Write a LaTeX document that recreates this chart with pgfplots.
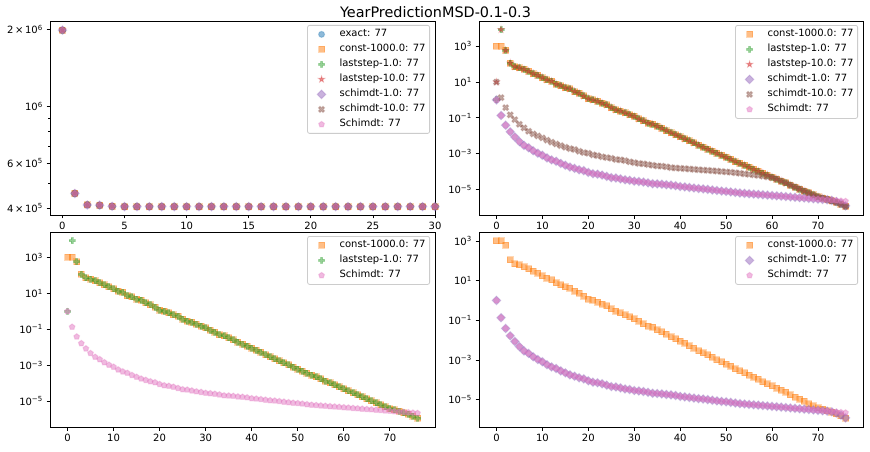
\documentclass[border=0pt]{standalone}
\usepackage{fontspec}
\setmainfont{DejaVu Sans}
\usepackage{pgfplots}
\usepackage{pgfplotstable}
\pgfplotsset{compat=1.18}
\definecolor{c0}{HTML}{1F77B4}
\definecolor{c1}{HTML}{FF7F0E}
\definecolor{c2}{HTML}{2CA02C}
\definecolor{c3}{HTML}{D62728}
\definecolor{c4}{HTML}{9467BD}
\definecolor{c5}{HTML}{8C564B}
\definecolor{c6}{HTML}{E377C2}
\newcommand\sups[1]{\textsuperscript{#1}}

\pgfdeclareplotmark{mplstar}{%
 \pgfpathmoveto{\pgfpointpolar{90}{\pgfplotmarksize}}%
 \pgfpathlineto{\pgfpointpolar{126}{0.382\pgfplotmarksize}}%
 \pgfpathlineto{\pgfpointpolar{162}{\pgfplotmarksize}}%
 \pgfpathlineto{\pgfpointpolar{198}{0.382\pgfplotmarksize}}%
 \pgfpathlineto{\pgfpointpolar{234}{\pgfplotmarksize}}%
 \pgfpathlineto{\pgfpointpolar{270}{0.382\pgfplotmarksize}}%
 \pgfpathlineto{\pgfpointpolar{306}{\pgfplotmarksize}}%
 \pgfpathlineto{\pgfpointpolar{342}{0.382\pgfplotmarksize}}%
 \pgfpathlineto{\pgfpointpolar{18}{\pgfplotmarksize}}%
 \pgfpathlineto{\pgfpointpolar{54}{0.382\pgfplotmarksize}}%
 \pgfpathclose\pgfusepathqfillstroke}
\pgfdeclareplotmark{mplplus}{%
 \pgfpathmoveto{\pgfpoint{-0.333\pgfplotmarksize}{-\pgfplotmarksize}}%
 \pgfpathlineto{\pgfpoint{0.333\pgfplotmarksize}{-\pgfplotmarksize}}%
 \pgfpathlineto{\pgfpoint{0.333\pgfplotmarksize}{-0.333\pgfplotmarksize}}%
 \pgfpathlineto{\pgfpoint{\pgfplotmarksize}{-0.333\pgfplotmarksize}}%
 \pgfpathlineto{\pgfpoint{\pgfplotmarksize}{0.333\pgfplotmarksize}}%
 \pgfpathlineto{\pgfpoint{0.333\pgfplotmarksize}{0.333\pgfplotmarksize}}%
 \pgfpathlineto{\pgfpoint{0.333\pgfplotmarksize}{\pgfplotmarksize}}%
 \pgfpathlineto{\pgfpoint{-0.333\pgfplotmarksize}{\pgfplotmarksize}}%
 \pgfpathlineto{\pgfpoint{-0.333\pgfplotmarksize}{0.333\pgfplotmarksize}}%
 \pgfpathlineto{\pgfpoint{-\pgfplotmarksize}{0.333\pgfplotmarksize}}%
 \pgfpathlineto{\pgfpoint{-\pgfplotmarksize}{-0.333\pgfplotmarksize}}%
 \pgfpathlineto{\pgfpoint{-0.333\pgfplotmarksize}{-0.333\pgfplotmarksize}}%
 \pgfpathclose\pgfusepathqfillstroke}
\pgfdeclareplotmark{mplx}{%
 \pgfpathmoveto{\pgfpoint{-0.5\pgfplotmarksize}{-\pgfplotmarksize}}%
 \pgfpathlineto{\pgfpoint{0pt}{-0.5\pgfplotmarksize}}%
 \pgfpathlineto{\pgfpoint{0.5\pgfplotmarksize}{-\pgfplotmarksize}}%
 \pgfpathlineto{\pgfpoint{\pgfplotmarksize}{-0.5\pgfplotmarksize}}%
 \pgfpathlineto{\pgfpoint{0.5\pgfplotmarksize}{0pt}}%
 \pgfpathlineto{\pgfpoint{\pgfplotmarksize}{0.5\pgfplotmarksize}}%
 \pgfpathlineto{\pgfpoint{0.5\pgfplotmarksize}{\pgfplotmarksize}}%
 \pgfpathlineto{\pgfpoint{0pt}{0.5\pgfplotmarksize}}%
 \pgfpathlineto{\pgfpoint{-0.5\pgfplotmarksize}{\pgfplotmarksize}}%
 \pgfpathlineto{\pgfpoint{-\pgfplotmarksize}{0.5\pgfplotmarksize}}%
 \pgfpathlineto{\pgfpoint{-0.5\pgfplotmarksize}{0pt}}%
 \pgfpathlineto{\pgfpoint{-\pgfplotmarksize}{-0.5\pgfplotmarksize}}%
 \pgfpathclose\pgfusepathqfillstroke}
\pgfdeclareplotmark{mpldiamond}{%
 \pgfpathmoveto{\pgfpoint{0pt}{1.414\pgfplotmarksize}}%
 \pgfpathlineto{\pgfpoint{1.414\pgfplotmarksize}{0pt}}%
 \pgfpathlineto{\pgfpoint{0pt}{-1.414\pgfplotmarksize}}%
 \pgfpathlineto{\pgfpoint{-1.414\pgfplotmarksize}{0pt}}%
 \pgfpathclose\pgfusepathqfillstroke}

\tikzset{
 mplmk/.style={only marks, mark size=3pt, fill opacity=0.5, draw opacity=0.3, line width=1pt},
 sE/.style={mplmk, mark=*, color=c0},
 sC/.style={mplmk, mark=square*, color=c1},
 sL1/.style={mplmk, mark=mplplus, color=c2},
 sL10/.style={mplmk, mark=mplstar, color=c3},
 sS1/.style={mplmk, mark=mpldiamond, color=c4},
 sS10/.style={mplmk, mark=mplx, color=c5},
 sSM/.style={mplmk, mark=pentagon*, color=c6},
}

\pgfplotsset{
 every axis/.append style={
  scale only axis, ymode=log,
  axis line style={line width=0.8pt},
  tick style={black, line width=0.8pt},
  major tick length=3.5pt, minor tick length=2pt,
  tick align=outside, xtick pos=bottom, ytick pos=left,
  ticklabel style={font=\fontsize{10}{12}\selectfont},
  xticklabel style={inner sep=0pt, anchor=north, yshift=-3.5pt},
  yticklabel style={inner sep=0pt, anchor=east, xshift=-3.5pt},
  /pgf/number format/assume math mode=true,
  legend style={at={(1,1)}, anchor=north east, xshift=-5pt, yshift=-4pt,
    draw=black!20, line width=0.8pt, rounded corners=2pt, fill=white,
    inner xsep=4pt, inner ysep=4pt, row sep=5pt, column sep=0pt,
    font=\fontsize{10}{12}\selectfont,
    nodes={inner sep=0pt, text height=7.5pt, text depth=2.5pt}},
  legend cell align=left,
 },
 legend image code/.code={\path[draw=none,fill=none] (0pt,-3pt) rectangle (28pt,3pt);
     \draw[sharp corners,#1] plot coordinates {(10pt,0pt)};},
}

\pgfplotstableread{
x y
0 1.99e6
1 4.57e5
2 4.12e5
3 4.11e5
4 4.07e5
5 4.06e5
6 4.06e5
7 4.06e5
8 4.06e5
9 4.06e5
10 4.06e5
11 4.06e5
12 4.06e5
13 4.06e5
14 4.06e5
15 4.06e5
16 4.06e5
17 4.06e5
18 4.06e5
19 4.06e5
20 4.06e5
21 4.06e5
22 4.06e5
23 4.06e5
24 4.06e5
25 4.06e5
26 4.06e5
27 4.06e5
28 4.06e5
29 4.06e5
30 4.06e5
}\objtab

\pgfplotstableread{
x const last1 last10 sch1 sch10 schm
0 1000 1.00 10.0 1.00 10.0 1.00
1 1000 8.51e3 8.51e3 0.135 1.35 0.135
2 589 589 589 3.89e-2 0.372 3.89e-2
3 115 115 115 1.66e-2 0.145 1.66e-2
4 72.4 72.4 72.4 8.51e-3 7.94e-2 8.51e-3
5 61.7 61.7 61.7 4.68e-3 4.37e-2 4.68e-3
6 51.3 51.3 51.3 2.88e-3 2.75e-2 2.88e-3
7 39.8 39.8 39.8 2.14e-3 1.78e-2 2.14e-3
8 29.5 29.5 29.5 1.45e-3 1.26e-2 1.45e-3
9 23.4 23.4 23.4 1.05e-3 9.77e-3 1.05e-3
10 17.8 17.8 17.8 8.13e-4 7.59e-3 8.13e-4
11 13.5 13.5 13.5 5.75e-4 5.62e-3 5.75e-4
12 11.2 11.2 11.2 4.47e-4 4.37e-3 4.47e-4
13 7.59 7.59 7.59 3.72e-4 3.47e-3 3.72e-4
14 6.31 6.31 6.31 2.82e-4 2.82e-3 2.82e-4
15 4.79 4.79 4.79 2.24e-4 2.29e-3 2.24e-4
16 4.17 4.17 4.17 1.78e-4 1.91e-3 1.78e-4
17 2.95 2.95 2.95 1.51e-4 1.70e-3 1.51e-4
18 2.34 2.34 2.34 1.26e-4 1.35e-3 1.26e-4
19 1.66 1.66 1.66 1.12e-4 1.15e-3 1.12e-4
20 1.17 1.17 1.17 8.91e-5 1.05e-3 8.91e-5
21 1.00 1.00 1.00 7.59e-5 8.51e-4 7.59e-5
22 0.832 0.832 0.832 7.08e-5 7.76e-4 7.08e-5
23 0.661 0.661 0.661 6.31e-5 6.61e-4 6.31e-5
24 0.525 0.525 0.525 5.37e-5 6.03e-4 5.37e-5
25 0.372 0.372 0.372 4.57e-5 5.50e-4 4.57e-5
26 0.282 0.282 0.282 4.37e-5 4.68e-4 4.37e-5
27 0.240 0.240 0.240 3.89e-5 4.47e-4 3.89e-5
28 0.191 0.191 0.191 3.47e-5 4.07e-4 3.47e-5
29 0.151 0.151 0.151 3.24e-5 3.47e-4 3.24e-5
30 0.120 0.120 0.120 2.88e-5 3.16e-4 2.88e-5
31 8.71e-2 8.71e-2 8.71e-2 2.75e-5 2.82e-4 2.75e-5
32 6.76e-2 6.76e-2 6.76e-2 2.57e-5 2.69e-4 2.57e-5
33 5.13e-2 5.13e-2 5.13e-2 2.34e-5 2.45e-4 2.34e-5
34 4.37e-2 4.37e-2 4.37e-2 2.09e-5 2.24e-4 2.09e-5
35 3.39e-2 3.39e-2 3.39e-2 2.04e-5 2.04e-4 2.04e-5
36 2.63e-2 2.63e-2 2.63e-2 1.95e-5 2.00e-4 1.95e-5
37 1.95e-2 1.95e-2 1.95e-2 1.82e-5 1.82e-4 1.82e-5
38 1.48e-2 1.48e-2 1.48e-2 1.74e-5 1.66e-4 1.74e-5
39 1.15e-2 1.15e-2 1.15e-2 1.62e-5 1.58e-4 1.62e-5
40 8.91e-3 8.91e-3 8.91e-3 1.45e-5 1.51e-4 1.45e-5
41 6.76e-3 6.76e-3 6.76e-3 1.38e-5 1.45e-4 1.38e-5
42 5.25e-3 5.25e-3 5.25e-3 1.29e-5 1.38e-4 1.29e-5
43 3.98e-3 3.98e-3 3.98e-3 1.20e-5 1.32e-4 1.20e-5
44 2.95e-3 2.95e-3 2.95e-3 1.12e-5 1.26e-4 1.12e-5
45 2.29e-3 2.29e-3 2.29e-3 1.07e-5 1.20e-4 1.07e-5
46 1.78e-3 1.78e-3 1.78e-3 1.00e-5 1.15e-4 1.00e-5
47 1.35e-3 1.35e-3 1.35e-3 9.33e-6 1.10e-4 9.33e-6
48 1.05e-3 1.05e-3 1.05e-3 8.71e-6 1.05e-4 8.71e-6
49 7.94e-4 7.94e-4 7.94e-4 8.13e-6 1.00e-4 8.13e-6
50 6.17e-4 6.17e-4 6.17e-4 7.76e-6 9.55e-5 7.76e-6
51 4.79e-4 4.79e-4 4.79e-4 7.24e-6 9.12e-5 7.24e-6
52 3.63e-4 3.63e-4 3.63e-4 6.76e-6 8.51e-5 6.76e-6
53 2.82e-4 2.82e-4 2.82e-4 6.31e-6 7.94e-5 6.31e-6
54 2.24e-4 2.24e-4 2.24e-4 6.03e-6 7.41e-5 6.03e-6
55 1.74e-4 1.74e-4 1.74e-4 5.75e-6 6.92e-5 5.75e-6
56 1.32e-4 1.32e-4 1.32e-4 5.50e-6 6.46e-5 5.50e-6
57 1.05e-4 1.05e-4 1.05e-4 5.25e-6 6.03e-5 5.25e-6
58 8.13e-5 8.13e-5 8.13e-5 5.01e-6 5.50e-5 5.01e-6
59 6.31e-5 6.31e-5 6.31e-5 4.79e-6 5.01e-5 4.79e-6
60 4.90e-5 4.90e-5 4.90e-5 4.57e-6 4.47e-5 4.57e-6
61 3.80e-5 3.80e-5 3.80e-5 4.37e-6 3.80e-5 4.37e-6
62 2.95e-5 2.95e-5 2.95e-5 4.17e-6 2.95e-5 4.17e-6
63 2.29e-5 2.29e-5 2.29e-5 3.98e-6 2.29e-5 3.98e-6
64 1.74e-5 1.74e-5 1.74e-5 3.80e-6 1.74e-5 3.80e-6
65 1.35e-5 1.35e-5 1.35e-5 3.63e-6 1.35e-5 3.63e-6
66 1.05e-5 1.05e-5 1.05e-5 3.47e-6 1.05e-5 3.47e-6
67 8.13e-6 8.13e-6 8.13e-6 3.31e-6 8.13e-6 3.31e-6
68 6.31e-6 6.31e-6 6.31e-6 3.16e-6 6.31e-6 3.16e-6
69 4.90e-6 4.90e-6 4.90e-6 3.02e-6 4.90e-6 3.02e-6
70 3.89e-6 3.89e-6 3.89e-6 2.88e-6 3.89e-6 2.88e-6
71 3.31e-6 3.31e-6 3.31e-6 2.75e-6 3.31e-6 2.75e-6
72 2.75e-6 2.75e-6 2.75e-6 2.63e-6 2.75e-6 2.63e-6
73 2.29e-6 2.29e-6 2.29e-6 2.45e-6 2.29e-6 2.51e-6
74 1.91e-6 1.91e-6 1.91e-6 2.09e-6 1.91e-6 2.40e-6
75 1.51e-6 1.51e-6 1.51e-6 1.66e-6 1.51e-6 2.29e-6
76 1.15e-6 1.15e-6 1.15e-6 1.20e-6 1.15e-6 2.19e-6
}\errtab

\begin{document}
\begin{tikzpicture}[x=1pt,y=1pt]
\path[fill=white, use as bounding box] (0,0) rectangle (870,451);
\node[anchor=base, inner sep=0pt, font=\fontsize{14.4}{17}\selectfont] at (435.5,433.5) {YearPredictionMSD-0.1-0.3};

% top left
\begin{axis}[at={(50pt,236pt)}, anchor=south west, width=385pt, height=194pt,
  xmin=-1, xmax=30, ymin=3.766e5, ymax=2.161e6,
  xtick={0,5,10,15,20,25,30},
  ytick={4e5,6e5,1e6,2e6},
  yticklabels={4{\,}×{\,}10\sups{5},6{\,}×{\,}10\sups{5},10\sups{6},2{\,}×{\,}10\sups{6}},
  minor ytick={5e5,7e5,8e5,9e5}]
\addplot[sE] table[x=x,y=y]{\objtab}; \addlegendentry{exact: 77}
\addplot[sC] table[x=x,y=y]{\objtab}; \addlegendentry{const-1000.0: 77}
\addplot[sL1] table[x=x,y=y]{\objtab}; \addlegendentry{laststep-1.0: 77}
\addplot[sL10] table[x=x,y=y]{\objtab}; \addlegendentry{laststep-10.0: 77}
\addplot[sS1] table[x=x,y=y]{\objtab}; \addlegendentry{schimdt-1.0: 77}
\addplot[sS10] table[x=x,y=y]{\objtab}; \addlegendentry{schimdt-10.0: 77}
\addplot[sSM] table[x=x,y=y]{\objtab}; \addlegendentry{Schimdt: 77}
\end{axis}

% top right
\begin{axis}[at={(479pt,236pt)}, anchor=south west, width=384pt, height=194pt,
  xmin=-3.8, xmax=79.8, ymin=3.72e-7, ymax=2.57e4,
  xtick={0,10,20,30,40,50,60,70},
  ytick={1e-5,1e-3,1e-1,1e1,1e3},
  yticklabels={10\sups{−5},10\sups{−3},10\sups{−1},10\sups{1},10\sups{3}}]
\addplot[sC] table[x=x,y=const]{\errtab}; \addlegendentry{const-1000.0: 77}
\addplot[sL1] table[x=x,y=last1]{\errtab}; \addlegendentry{laststep-1.0: 77}
\addplot[sL10] table[x=x,y=last10]{\errtab}; \addlegendentry{laststep-10.0: 77}
\addplot[sS1] table[x=x,y=sch1]{\errtab}; \addlegendentry{schimdt-1.0: 77}
\addplot[sS10] table[x=x,y=sch10]{\errtab}; \addlegendentry{schimdt-10.0: 77}
\addplot[sSM] table[x=x,y=schm]{\errtab}; \addlegendentry{Schimdt: 77}
\end{axis}

% bottom left
\begin{axis}[at={(50pt,24pt)}, anchor=south west, width=385pt, height=195pt,
  xmin=-3.8, xmax=79.8, ymin=3.72e-7, ymax=2.57e4,
  xtick={0,10,20,30,40,50,60,70},
  ytick={1e-5,1e-3,1e-1,1e1,1e3},
  yticklabels={10\sups{−5},10\sups{−3},10\sups{−1},10\sups{1},10\sups{3}}]
\addplot[sC] table[x=x,y=const]{\errtab}; \addlegendentry{const-1000.0: 77}
\addplot[sL1] table[x=x,y=last1]{\errtab}; \addlegendentry{laststep-1.0: 77}
\addplot[sSM] table[x=x,y=schm]{\errtab}; \addlegendentry{Schimdt: 77}
\end{axis}

% bottom right
\begin{axis}[at={(479pt,24pt)}, anchor=south west, width=384pt, height=195pt,
  xmin=-3.8, xmax=79.8, ymin=4.17e-7, ymax=2.82e3,
  xtick={0,10,20,30,40,50,60,70},
  ytick={1e-5,1e-3,1e-1,1e1,1e3},
  yticklabels={10\sups{−5},10\sups{−3},10\sups{−1},10\sups{1},10\sups{3}}]
\addplot[sC] table[x=x,y=const]{\errtab}; \addlegendentry{const-1000.0: 77}
\addplot[sS1] table[x=x,y=sch1]{\errtab}; \addlegendentry{schimdt-1.0: 77}
\addplot[sSM] table[x=x,y=schm]{\errtab}; \addlegendentry{Schimdt: 77}
\end{axis}
\end{tikzpicture}
\end{document}
